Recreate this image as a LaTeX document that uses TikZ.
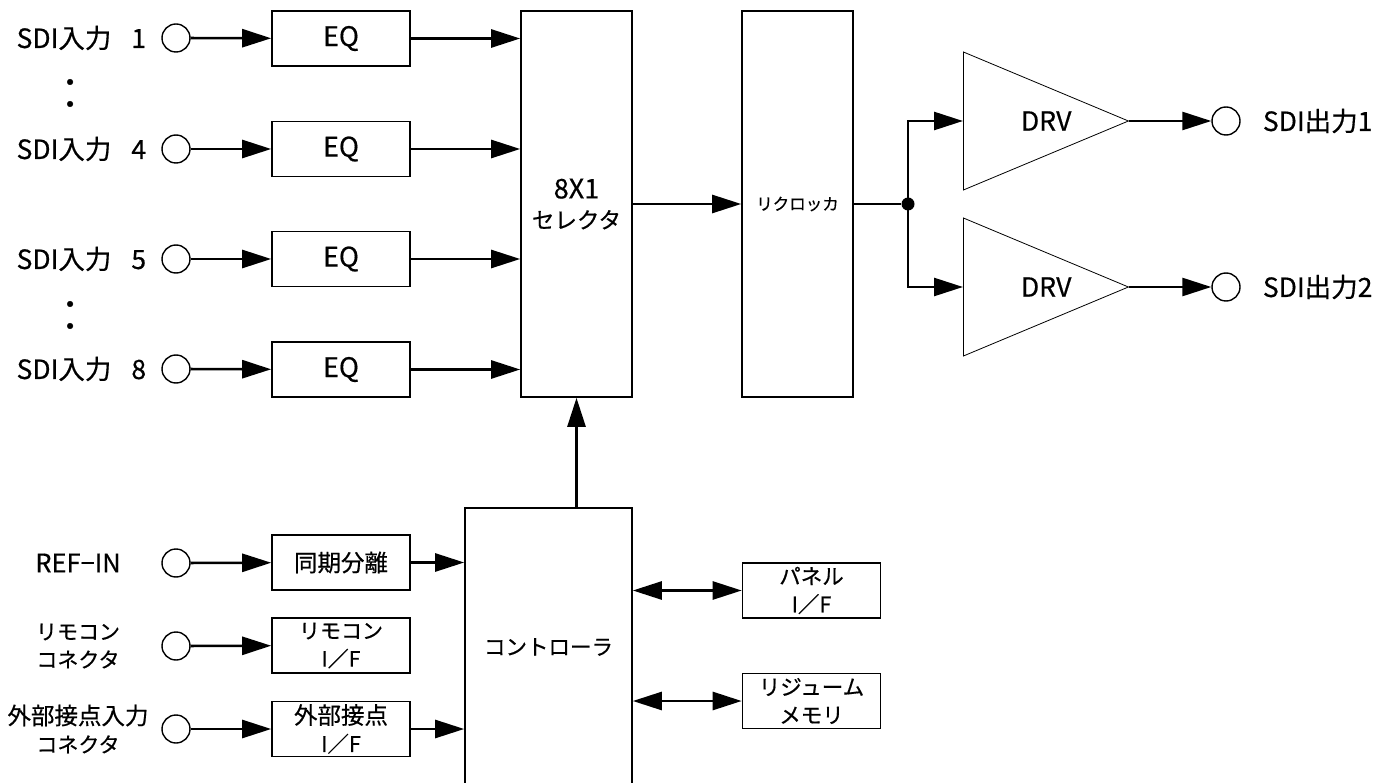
\documentclass[tikz,border=0pt]{standalone}
\usepackage{fontspec}
\setmainfont{Noto Sans CJK JP}[FakeBold=0.5]
\usetikzlibrary{arrows.meta,positioning,calc,shapes.geometric}

\begin{document}
\begin{tikzpicture}[
  x=1pt,y=-1pt,
  blk/.style={draw,line width=1.6pt,minimum width=138pt,minimum height=55pt,
    inner sep=0pt,align=center,font=\fontsize{21.5}{28}\selectfont},
  tall/.style={draw,line width=1.6pt,minimum width=111pt,minimum height=386pt,
    inner sep=0pt,align=center},
  port/.style={circle,draw,line width=1.4pt,fill=white,minimum size=28pt,inner sep=0pt},
  lbl/.style={inner sep=0pt,align=center,font=\fontsize{22}{28}\selectfont},
  sdi/.style={inner sep=0pt,font=\fontsize{26.5}{28}\selectfont},
  drv/.style={isosceles triangle,isosceles triangle stretches,draw,line width=0.8pt,
    minimum width=138pt,minimum height=165pt,inner sep=0pt,anchor=west},
  arr/.style={-{Triangle[length=29pt,width=18pt]},line width=2.6pt},
  darr/.style={{Triangle[length=29pt,width=18pt]}-{Triangle[length=29pt,width=18pt]},line width=2.6pt}
]
\useasboundingbox (0,0) rectangle (1397,783);
% SDI inputs
\node[port] (in1) at (176,38) {};
\node[port] (in4) at (176,149) {};
\node[port] (in5) at (176,259) {};
\node[port] (in8) at (176,369) {};
\node[sdi,left=15pt of in1] (lin1) {SDI入力\hspace{20pt}1};
\node[sdi,left=15pt of in4] (lin4) {SDI入力\hspace{20pt}4};
\node[sdi,left=15pt of in5] (lin5) {SDI入力\hspace{20pt}5};
\node[sdi,left=15pt of in8] (lin8) {SDI入力\hspace{20pt}8};
\node[lbl,font=\fontsize{44}{44}\selectfont] (dots1) at (77,93) {\rotatebox{90}{‥}};
\node[lbl,font=\fontsize{44}{44}\selectfont] (dots2) at (77,315) {\rotatebox{90}{‥}};
\node[blk,font=\fontsize{27}{28}\selectfont] (eq1) at (341,38.5) {EQ};
\node[blk,font=\fontsize{27}{28}\selectfont] (eq4) at (341,149) {EQ};
\node[blk,font=\fontsize{27}{28}\selectfont] (eq5) at (341,259) {EQ};
\node[blk,font=\fontsize{27}{28}\selectfont] (eq8) at (341,369.5) {EQ};
% selector and reclocker
\node[tall,font=\fontsize{22.5}{30}\selectfont] (sel) at (576.5,204)
  {{\fontsize{27}{30}\selectfont 8X1}\\セレクタ};
\node[tall,font=\fontsize{16.5}{20}\selectfont] (rck) at (797.5,204) {リクロッカ};
\node[circle,fill,inner sep=0pt,minimum size=13pt] (jn) at (908,204) {};
% drivers
\node[drv] (drv1) at (963,121) {};
\node[drv] (drv2) at (963,287) {};
\node[sdi] (tdrv1) at ($(drv1.west)!0.5!(drv1.apex)$) {DRV};
\node[sdi] (tdrv2) at ($(drv2.west)!0.5!(drv2.apex)$) {DRV};
\node[port] (out1) at (1226,121) {};
\node[port] (out2) at (1226,287) {};
\node[sdi,right=22pt of out1] (lout1) {SDI出力1};
\node[sdi,right=22pt of out2] (lout2) {SDI出力2};
% control side
\node[port] (pref) at (176,563) {};
\node[port] (prmt) at (176,646) {};
\node[port] (pext) at (176,729) {};
\node[lbl,font=\fontsize{25.5}{28}\selectfont] (lref) at (78,563) {REF−IN};
\node[lbl,font=\fontsize{21}{28}\selectfont] (lrmt) at (78,646) {リモコン\\コネクタ};
\node[lbl,font=\fontsize{23.5}{28}\selectfont] (lext) at (78,729) {外部接点入力\\{\fontsize{21}{28}\selectfont コネクタ}};
\node[blk,font=\fontsize{23.5}{28}\selectfont] (syn) at (341,562.5) {同期分離};
\node[blk,font=\fontsize{21}{28}\selectfont] (rmt) at (341,645.5) {リモコン\\I／F};
\node[blk,font=\fontsize{23.5}{28}\selectfont] (ext) at (341,729) {外部接点\\{\fontsize{21.5}{28}\selectfont I／F}};
\node[draw,line width=1.6pt,minimum width=167pt,minimum height=278pt,inner sep=0pt,
  font=\fontsize{21.5}{28}\selectfont] (ctl) at (548.5,647) {コントローラ};
\node[blk] (pnl) at (811.5,590.5) {パネル\\I／F};
\node[blk] (mem) at (811.5,701) {リジューム\\メモリ};
% signal path
\draw[arr] (in1) -- (eq1);
\draw[arr] (in4) -- (eq4);
\draw[arr] (in5) -- (eq5);
\draw[arr] (in8) -- (eq8);
\draw[arr] (eq1) -- (eq1 -| sel.west);
\draw[arr] (eq4) -- (eq4 -| sel.west);
\draw[arr] (eq5) -- (eq5 -| sel.west);
\draw[arr] (eq8) -- (eq8 -| sel.west);
\draw[arr] (sel) -- (rck);
\draw[line width=2.6pt] (rck) -- (jn);
\draw[arr] (jn.center) |- (drv1.west);
\draw[arr] (jn.center) |- (drv2.west);
\draw[arr] (drv1.apex) -- (out1);
\draw[arr] (drv2.apex) -- (out2);
% control path
\draw[arr] (pref) -- (syn);
\draw[arr] (prmt) -- (rmt);
\draw[arr] (pext) -- (ext);
\draw[arr] (syn) -- (syn -| ctl.west);
\draw[arr] (ext) -- (ext -| ctl.west);
\draw[arr] (sel.south |- ctl.north) -- (sel.south);
\draw[darr] (ctl.east |- pnl) -- (pnl);
\draw[darr] (ctl.east |- mem) -- (mem);
\end{tikzpicture}
\end{document}
